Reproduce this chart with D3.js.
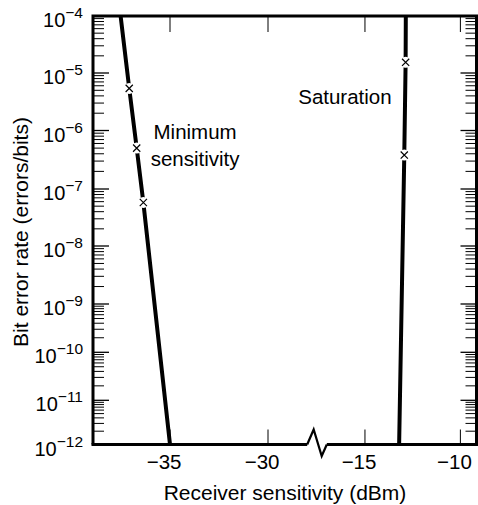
<!DOCTYPE html>
<html><head><meta charset="utf-8">
<script src="https://cdn.jsdelivr.net/npm/d3@7"></script>
<style>
body{margin:0;background:#fff}
svg{display:block}
text{font-family:"Liberation Sans",Arial,Helvetica,sans-serif;fill:#000}
</style>
</head><body>
<svg id="c" width="478" height="505"></svg>
<script>
// ---- data ----
const yDecades = [-4, -5, -6, -7, -8, -9, -10, -11, -12];
const xTicksLeft = [-35, -30];
const xTicksRight = [-15, -10];
const xDomainLeft = [-39, -28];
const xDomainRight = [-17, -9.4];

const minSensLineX = [-37.52, -35.0];
const minSensLineY = [1e-4, 1e-12];
const minSensMarkX = [-37.08, -36.70, -36.36];
const minSensMarkY = [5.4e-6, 5.0e-7, 5.8e-8];

const satLineX = [-12.86, -13.21];
const satLineY = [1e-4, 1e-12];
const satMarkX = [-12.87, -12.94];
const satMarkY = [1.54e-5, 3.8e-7];

const labels = [
  {lines: ["Minimum", "sensitivity"], x: -33.72, y: 1e-6},
  {lines: ["Saturation"], x: -16.05, y: 4e-6}
];

// ---- layout ----
const svg = d3.select("#c");
const L = 93, R = 476.5, T = 16, B = 444.5;
const xL = d3.scaleLinear().domain(xDomainLeft).range([170 - 4 * 19.6, 170 + 7 * 19.6]);
const xR = d3.scaleLinear().domain(xDomainRight).range([366 - 2 * 19.6, 366 + 5.4 * 19.6]);
const x = v => (v <= xDomainLeft[1] ? xL(v) : xR(v));
// scanned figure has slightly uneven decades: piecewise log scale
const y = d3.scaleLog()
  .domain(yDecades.map(d => Math.pow(10, d)))
  .range([16, 73, 130.5, 189, 246, 304, 352.3, 400.3, 444.5]);

const g = svg.append("g");

// y ticks (left & right, inward)
const ticks = [];
yDecades.forEach(d => {
  ticks.push({v: Math.pow(10, d), major: true});
  if (d > -12) for (let m = 2; m <= 9; m++) ticks.push({v: m * Math.pow(10, d - 1), major: false});
});
ticks.forEach(t => {
  const yy = y(t.v);
  const len = t.major ? 16 : 11;
  g.append("line").attr("x1", L).attr("x2", L + len).attr("y1", yy).attr("y2", yy)
    .attr("stroke", "#000").attr("stroke-width", t.major ? 1.3 : 1);
  g.append("line").attr("x1", R).attr("x2", R - len).attr("y1", yy).attr("y2", yy)
    .attr("stroke", "#000").attr("stroke-width", t.major ? 1.3 : 1);
});

// y tick labels
yDecades.forEach(d => {
  const t = g.append("text").attr("x", 83).attr("y", y(Math.pow(10, d)) + 11)
    .attr("text-anchor", "end").attr("font-size", 20);
  t.append("tspan").text("10");
  t.append("tspan").attr("dy", -9).attr("font-size", 15.5).text("\u2212" + Math.abs(d));
});

// x ticks (top & bottom, inward) and labels
const xt = xTicksLeft.map(v => ({v, px: xL(v)})).concat(xTicksRight.map(v => ({v, px: xR(v)})));
xt.forEach(t => {
  g.append("line").attr("x1", t.px).attr("x2", t.px).attr("y1", B).attr("y2", B - 15)
    .attr("stroke", "#000").attr("stroke-width", 1);
  g.append("line").attr("x1", t.px).attr("x2", t.px).attr("y1", T).attr("y2", T + 16)
    .attr("stroke", "#000").attr("stroke-width", 1);
  g.append("text").attr("x", t.px).attr("dx", "-0.29em").attr("y", 469)
    .attr("text-anchor", "middle").attr("font-size", 20.5)
    .text("\u2212" + Math.abs(t.v));
});

// clip
svg.append("defs").append("clipPath").attr("id", "pc")
  .append("rect").attr("x", L).attr("y", T).attr("width", R - L).attr("height", B - T);

const line = d3.line().x(p => x(p[0])).y(p => y(p[1]));
function series(lx, ly, mx, my) {
  const pts = lx.map((v, i) => [v, ly[i]]).concat(mx.map((v, i) => [v, my[i]]))
    .sort((a, b) => b[1] - a[1]);
  g.append("path").attr("d", line(pts)).attr("clip-path", "url(#pc)")
    .attr("fill", "none").attr("stroke", "#000").attr("stroke-width", 4);
  mx.forEach((v, i) => {
    const cx = x(v), cy = y(my[i]);
    g.append("circle").attr("cx", cx).attr("cy", cy).attr("r", 5.5).attr("fill", "#fff");
    const s = 3.6;
    g.append("path").attr("d", `M${cx - s},${cy - s}L${cx + s},${cy + s}M${cx - s},${cy + s}L${cx + s},${cy - s}`)
      .attr("stroke", "#000").attr("stroke-width", 1.2).attr("fill", "none");
  });
}
series(minSensLineX, minSensLineY, minSensMarkX, minSensMarkY);
series(satLineX, satLineY, satMarkX, satMarkY);

// frame
const a = xL(xDomainLeft[1]), b = xR(xDomainRight[0]), w = b - a;
g.append("path").attr("d", `M${L},${B}V${T}H${R}V${B}`)
  .attr("fill", "none").attr("stroke", "#000").attr("stroke-width", 3);
g.append("line").attr("x1", L - 1.5).attr("x2", a).attr("y1", B).attr("y2", B)
  .attr("stroke", "#000").attr("stroke-width", 3);
g.append("line").attr("x1", b).attr("x2", R + 1.5).attr("y1", B).attr("y2", B)
  .attr("stroke", "#000").attr("stroke-width", 3);
g.append("path").attr("d", `M${a},${B}L${a + 0.33 * w},${B - 15}L${a + 0.74 * w},${B + 11.5}L${b},${B}`)
  .attr("fill", "none").attr("stroke", "#000").attr("stroke-width", 2.2).attr("stroke-linejoin", "miter");

// annotations
labels.forEach(l => {
  l.lines.forEach((s, i) => {
    g.append("text").attr("x", x(l.x)).attr("y", y(l.y) + 8 + i * 27)
      .attr("text-anchor", "middle").attr("font-size", 20.5).text(s);
  });
});

// axis titles
g.append("text").attr("x", 285).attr("y", 500).attr("text-anchor", "middle")
  .attr("font-size", 21).text("Receiver sensitivity (dBm)");
g.append("text").attr("transform", "translate(28,232) rotate(-90)").attr("text-anchor", "middle")
  .attr("font-size", 21).text("Bit error rate (errors/bits)");
</script>
</body></html>
